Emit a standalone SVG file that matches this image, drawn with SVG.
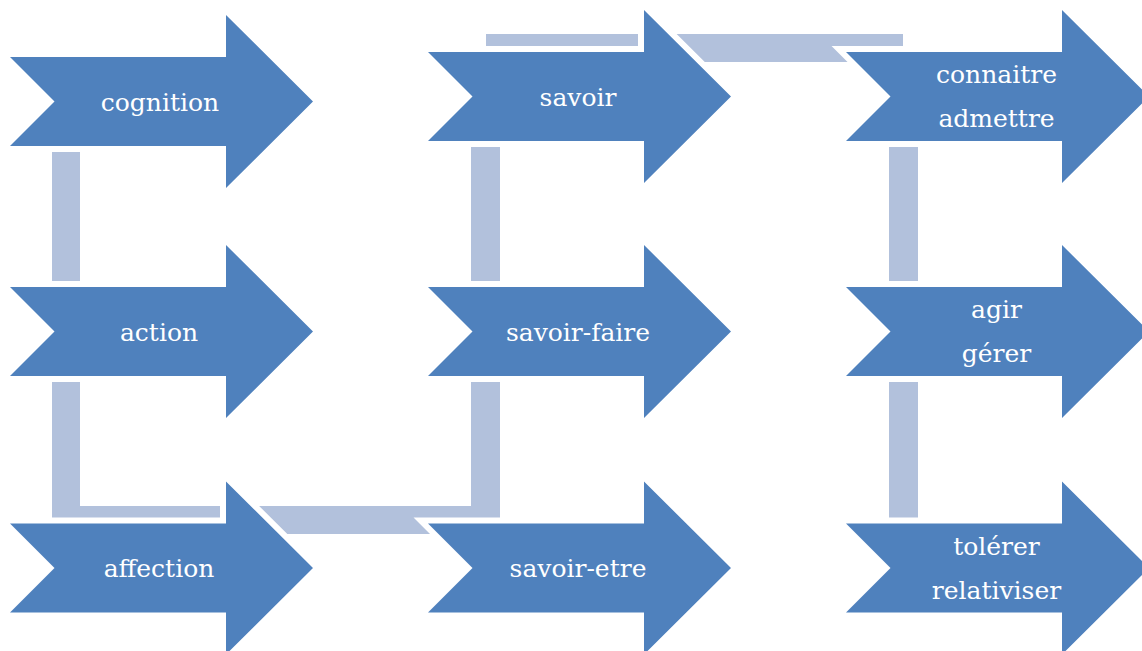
<svg xmlns="http://www.w3.org/2000/svg" width="1142" height="651" viewBox="0 0 1142 651">
<style>
.arrow{fill:#4F81BD;stroke:#FFFFFF;stroke-width:12;paint-order:stroke;stroke-linejoin:miter;stroke-miterlimit:10}
.conn{fill:#B2C1DC}
.lbl{font-family:"DejaVu Serif","Liberation Serif",serif;font-size:25px;fill:#FFFFFF;text-anchor:middle}
</style>
<rect width="1142" height="651" fill="#FFFFFF"/>
<g id="connectors">
<rect class="conn" x="52" y="146" width="28" height="141"/>
<rect class="conn" x="52" y="376" width="28" height="158"/>
<rect class="conn" x="52" y="506" width="448" height="28"/>
<rect class="conn" x="471" y="376" width="29" height="158"/>
<rect class="conn" x="471" y="141" width="29" height="146"/>
<rect class="conn" x="486" y="34" width="417" height="28"/>
<rect class="conn" x="889" y="141" width="29" height="146"/>
<rect class="conn" x="889" y="376" width="29" height="154"/>
</g>
<g id="cognition">
<polygon class="arrow" points="10,57 226,57 226,15 313,101.5 226,188 226,146 10,146 54.5,101.5"/>
<text class="lbl" x="160" y="110.5">cognition</text>
</g>
<g id="action">
<polygon class="arrow" points="10,287 226,287 226,245 313,331.5 226,418 226,376 10,376 54.5,331.5"/>
<text class="lbl" x="159" y="340.5">action</text>
</g>
<g id="affection">
<polygon class="arrow" points="10,523.5 226,523.5 226,481.5 313,568 226,654.5 226,612.5 10,612.5 54.5,568"/>
<text class="lbl" x="159" y="577">affection</text>
</g>
<g id="savoir">
<polygon class="arrow" points="428,52 644,52 644,10 731,96.5 644,183 644,141 428,141 472.5,96.5"/>
<text class="lbl" x="578" y="105.5">savoir</text>
</g>
<g id="savoir-faire">
<polygon class="arrow" points="428,287 644,287 644,245 731,331.5 644,418 644,376 428,376 472.5,331.5"/>
<text class="lbl" x="578" y="340.5">savoir-faire</text>
</g>
<g id="savoir-etre">
<polygon class="arrow" points="428,523.5 644,523.5 644,481.5 731,568 644,654.5 644,612.5 428,612.5 472.5,568"/>
<text class="lbl" x="578" y="577">savoir-etre</text>
</g>
<g id="connaitre-admettre">
<polygon class="arrow" points="846,52 1062,52 1062,10 1149,96.5 1062,183 1062,141 846,141 890.5,96.5"/>
<text class="lbl" x="996.5" y="83">connaitre</text>
<text class="lbl" x="996.5" y="127">admettre</text>
</g>
<g id="agir-gerer">
<polygon class="arrow" points="846,287 1062,287 1062,245 1149,331.5 1062,418 1062,376 846,376 890.5,331.5"/>
<text class="lbl" x="996.5" y="318">agir</text>
<text class="lbl" x="996.5" y="362">gérer</text>
</g>
<g id="tolerer-relativiser">
<polygon class="arrow" points="846,523.5 1062,523.5 1062,481.5 1149,568 1062,654.5 1062,612.5 846,612.5 890.5,568"/>
<text class="lbl" x="996.5" y="554.5">tolérer</text>
<text class="lbl" x="996.5" y="598.5">relativiser</text>
</g>
</svg>
